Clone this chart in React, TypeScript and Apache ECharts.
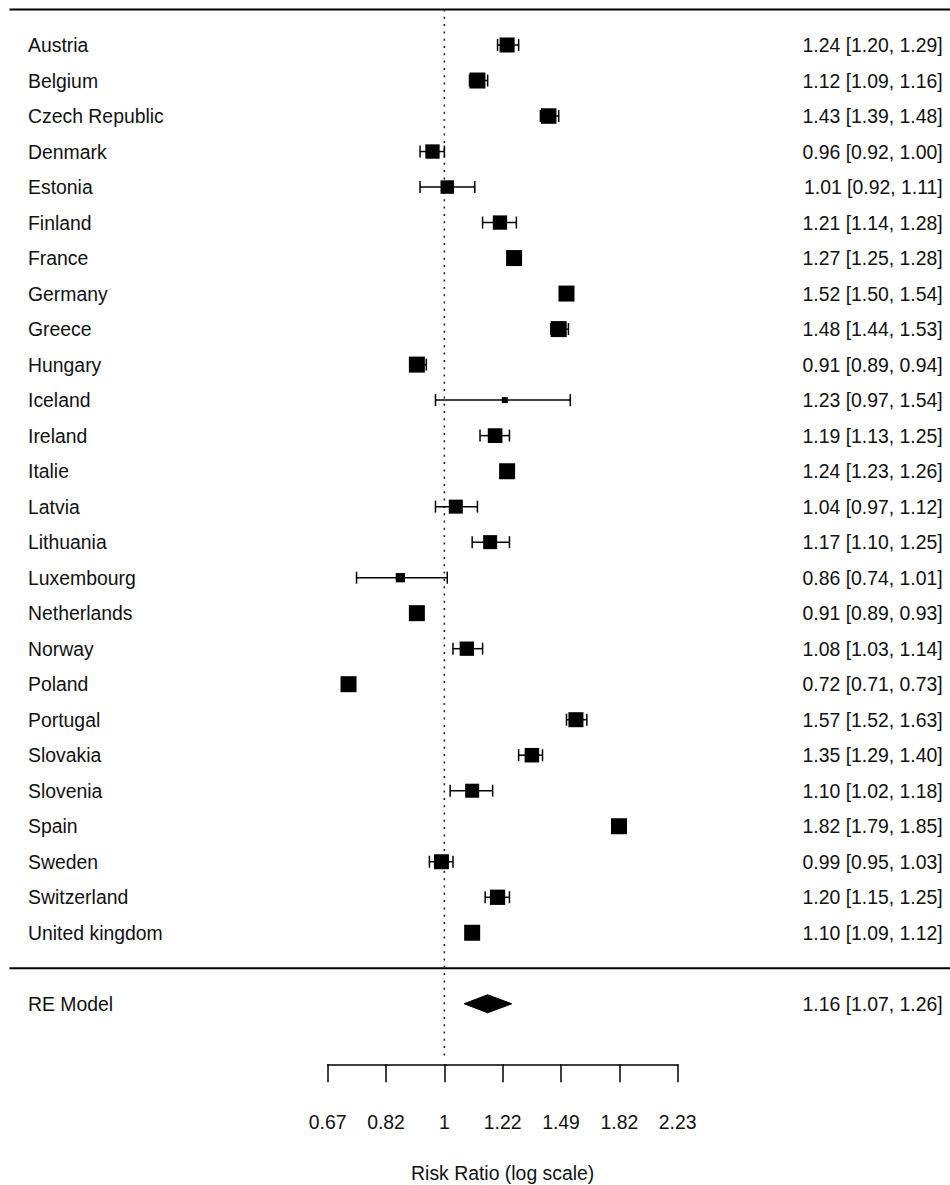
import React, { useEffect, useRef } from "react";
import * as echarts from "echarts";

// Study-level risk ratios with 95% confidence intervals
const countries = [
  "Austria", "Belgium", "Czech Republic", "Denmark", "Estonia", "Finland",
  "France", "Germany", "Greece", "Hungary", "Iceland", "Ireland", "Italie",
  "Latvia", "Lithuania", "Luxembourg", "Netherlands", "Norway", "Poland",
  "Portugal", "Slovakia", "Slovenia", "Spain", "Sweden", "Switzerland",
  "United kingdom",
];
const estimates = [
  1.24, 1.12, 1.43, 0.96, 1.01, 1.21, 1.27, 1.52, 1.48, 0.91, 1.23, 1.19, 1.24,
  1.04, 1.17, 0.86, 0.91, 1.08, 0.72, 1.57, 1.35, 1.10, 1.82, 0.99, 1.20, 1.10,
];
const lowerCI = [
  1.20, 1.09, 1.39, 0.92, 0.92, 1.14, 1.25, 1.50, 1.44, 0.89, 0.97, 1.13, 1.23,
  0.97, 1.10, 0.74, 0.89, 1.03, 0.71, 1.52, 1.29, 1.02, 1.79, 0.95, 1.15, 1.09,
];
const upperCI = [
  1.29, 1.16, 1.48, 1.00, 1.11, 1.28, 1.28, 1.54, 1.53, 0.94, 1.54, 1.25, 1.26,
  1.12, 1.25, 1.01, 0.93, 1.14, 0.73, 1.63, 1.40, 1.18, 1.85, 1.03, 1.25, 1.12,
];
// Random-effects weights (%)
const weights = [
  3.96, 4.22, 4.09, 3.78, 3.56, 3.78, 4.22, 4.22, 4.22, 4.22, 1.58, 3.88, 4.22,
  3.70, 3.70, 2.46, 4.22, 3.78, 4.22, 3.96, 3.83, 3.70, 4.22, 3.96, 4.04, 4.22,
];
// Pooled random-effects estimate
const summaryLabel = "RE Model";
const summaryEstimate = [1.16, 1.07, 1.26];

// Log-scale axis ticks (natural log units) and their labels
const tickLogValues = [-0.4, -0.2, 0, 0.2, 0.4, 0.6, 0.8];
const tickLabels = ["0.67", "0.82", "1", "1.22", "1.49", "1.82", "2.23"];
const axisTitle = "Risk Ratio (log scale)";

// Layout
const WIDTH = 950;
const HEIGHT = 1185;
const GRID_LEFT = 9.5;
const AXIS_LEFT = 327.7;
const AXIS_WIDTH = 350;
const ROW_PX = 35.51;
const TOP_ROW = 27;
const BOTTOM_ROW = -3;
const GRID_TOP = 9.5;
const AXIS_LINE_Y = 1064.3;
const REF_BOTTOM_ROW = -2.56;
const FONT = "'Liberation Sans', Arial, Helvetica, sans-serif";
const FONT_SIZE = 19.4;
const MAX_SQUARE = 16;
const CAP_HALF = 6;
const DIAMOND_HALF = 9;

const fmt = (v: number) => v.toFixed(2);

export default function App() {
  const ref = useRef<HTMLDivElement>(null);

  useEffect(() => {
    document.body.style.margin = "0";
    if (!ref.current) return;
    const chart = echarts.init(ref.current, null, { renderer: "svg" });

    const n = countries.length;
    const logTickMin = tickLogValues[0];
    const logTickMax = tickLogValues[tickLogValues.length - 1];
    const pxPerLog = AXIS_WIDTH / (logTickMax - logTickMin);
    const xMin = logTickMin - (AXIS_LEFT - GRID_LEFT) / pxPerLog;
    const xMax = logTickMax + (WIDTH - AXIS_LEFT - AXIS_WIDTH) / pxPerLog;
    const maxW = Math.max(...weights);

    const rowOf = (i: number) => n - i;
    const summaryRow = -1;

    const studyData = countries.map((_, i) => [
      Math.log(estimates[i]),
      rowOf(i),
      Math.log(lowerCI[i]),
      Math.log(upperCI[i]),
      (MAX_SQUARE * weights[i]) / maxW,
    ]);

    const leftLabel = (v: number) => {
      const r = Math.round(v);
      const i = n - r;
      if (i >= 0 && i < n) return countries[i];
      if (r === summaryRow) return summaryLabel;
      return "";
    };
    const rightLabel = (v: number) => {
      const r = Math.round(v);
      const i = n - r;
      if (i >= 0 && i < n)
        return `${fmt(estimates[i])} [${fmt(lowerCI[i])}, ${fmt(upperCI[i])}]`;
      if (r === summaryRow)
        return `${fmt(summaryEstimate[0])} [${fmt(summaryEstimate[1])}, ${fmt(summaryEstimate[2])}]`;
      return "";
    };

    const textStyle = { color: "#111", fontFamily: FONT, fontSize: FONT_SIZE };
    const gridHeight = (TOP_ROW - BOTTOM_ROW) * ROW_PX;

    const option: any = {
      animation: false,
      backgroundColor: "#fff",
      grid: [
        { left: GRID_LEFT, right: 0, top: GRID_TOP, height: gridHeight },
        { left: AXIS_LEFT, width: AXIS_WIDTH, top: AXIS_LINE_Y - 50, height: 50 },
      ],
      xAxis: [
        { type: "value", gridIndex: 0, min: xMin, max: xMax, show: false },
        {
          type: "value",
          gridIndex: 1,
          min: logTickMin,
          max: logTickMax,
          interval: 0.2,
          position: "bottom",
          axisLine: { show: true, lineStyle: { color: "#000", width: 1.5 } },
          axisTick: { show: true, length: 18, lineStyle: { color: "#000", width: 1.5 } },
          splitLine: { show: false },
          axisLabel: {
            ...textStyle,
            margin: 48,
            formatter: (v: number) => {
              const k = tickLogValues.findIndex((t) => Math.abs(t - v) < 1e-6);
              return k >= 0 ? tickLabels[k] : "";
            },
          },
          name: axisTitle,
          nameLocation: "middle",
          nameGap: 99,
          nameTextStyle: textStyle,
        },
      ],
      yAxis: [
        {
          type: "value",
          gridIndex: 0,
          min: BOTTOM_ROW,
          max: TOP_ROW,
          interval: 1,
          position: "left",
          axisLine: { show: false },
          axisTick: { show: false },
          splitLine: { show: false },
          axisLabel: { ...textStyle, inside: true, margin: 28 - GRID_LEFT, formatter: leftLabel },
        },
        {
          type: "value",
          gridIndex: 0,
          min: BOTTOM_ROW,
          max: TOP_ROW,
          interval: 1,
          position: "right",
          axisLine: { show: false },
          axisTick: { show: false },
          splitLine: { show: false },
          axisLabel: { ...textStyle, inside: true, margin: 7.3, formatter: rightLabel },
        },
        { type: "value", gridIndex: 1, show: false, min: 0, max: 1 },
      ],
      series: [
        // Horizontal rules: top border and separator above the pooled estimate
        {
          type: "custom",
          xAxisIndex: 0,
          yAxisIndex: 0,
          silent: true,
          data: [[TOP_ROW], [0]],
          renderItem: (params: any, api: any) => {
            const cs = params.coordSys;
            const y = api.coord([0, api.value(0)])[1];
            return {
              type: "line",
              shape: { x1: cs.x, y1: y, x2: cs.x + cs.width, y2: y },
              style: { stroke: "#000", lineWidth: 2 },
            };
          },
        },
        // Dotted reference line at RR = 1
        {
          type: "custom",
          xAxisIndex: 0,
          yAxisIndex: 0,
          silent: true,
          data: [[0]],
          renderItem: (_p: any, api: any) => {
            const a = api.coord([api.value(0), TOP_ROW]);
            const b = api.coord([api.value(0), REF_BOTTOM_ROW]);
            return {
              type: "line",
              shape: { x1: a[0], y1: a[1], x2: b[0], y2: b[1] },
              style: { stroke: "#222", lineWidth: 1.6, lineDash: [2, 5.3] },
            };
          },
        },
        // Study estimates: CI whiskers plus weight-sized squares
        {
          type: "custom",
          xAxisIndex: 0,
          yAxisIndex: 0,
          silent: true,
          data: studyData,
          renderItem: (_p: any, api: any) => {
            const row = api.value(1);
            const c = api.coord([api.value(0), row]);
            const lo = api.coord([api.value(2), row]);
            const hi = api.coord([api.value(3), row]);
            const s = api.value(4);
            const st = { stroke: "#000", lineWidth: 1.5 };
            return {
              type: "group",
              children: [
                { type: "line", shape: { x1: lo[0], y1: c[1], x2: hi[0], y2: c[1] }, style: st },
                { type: "line", shape: { x1: lo[0], y1: c[1] - CAP_HALF, x2: lo[0], y2: c[1] + CAP_HALF }, style: st },
                { type: "line", shape: { x1: hi[0], y1: c[1] - CAP_HALF, x2: hi[0], y2: c[1] + CAP_HALF }, style: st },
                { type: "rect", shape: { x: c[0] - s / 2, y: c[1] - s / 2, width: s, height: s }, style: { fill: "#000" } },
              ],
            };
          },
        },
        // Pooled estimate diamond
        {
          type: "custom",
          xAxisIndex: 0,
          yAxisIndex: 0,
          silent: true,
          data: [[
            Math.log(summaryEstimate[0]),
            summaryRow,
            Math.log(summaryEstimate[1]),
            Math.log(summaryEstimate[2]),
          ]],
          renderItem: (_p: any, api: any) => {
            const row = api.value(1);
            const c = api.coord([api.value(0), row]);
            const lo = api.coord([api.value(2), row]);
            const hi = api.coord([api.value(3), row]);
            return {
              type: "polygon",
              shape: {
                points: [
                  [lo[0], c[1]],
                  [c[0], c[1] - DIAMOND_HALF],
                  [hi[0], c[1]],
                  [c[0], c[1] + DIAMOND_HALF],
                ],
              },
              style: { fill: "#000", stroke: "#000", lineWidth: 1 },
            };
          },
        },
      ],
    };

    chart.setOption(option);
    return () => chart.dispose();
  }, []);

  return <div ref={ref} style={{ width: WIDTH, height: HEIGHT }} />;
}
